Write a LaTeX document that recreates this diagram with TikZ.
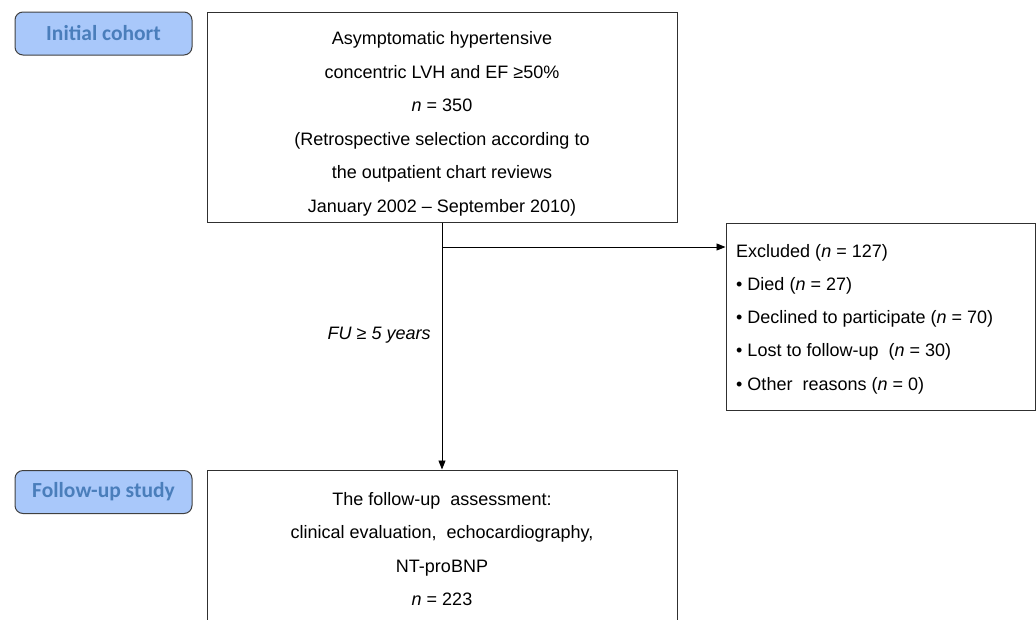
\documentclass[tikz,border=0pt]{standalone}
\usepackage{fontspec}
\setmainfont{Liberation Sans}
\newfontfamily\labelfont{Carlito}
\usetikzlibrary{arrows.meta}
\definecolor{lblfill}{HTML}{A9C8FA}
\definecolor{lbltext}{HTML}{4A7EBB}
\definecolor{lbldraw}{HTML}{404040}
\definecolor{boxdraw}{HTML}{303030}
\tikzset{
  stagelabel/.style={draw=lbldraw, line width=1pt, rounded corners=8pt, fill=lblfill,
    minimum width=177pt, minimum height=43pt, inner sep=0pt,
    font=\labelfont\bfseries\fontsize{21.5}{24}\selectfont, text=lbltext},
  flowbox/.style={draw=boxdraw, line width=1pt, rectangle, inner sep=0pt},
  boxtext/.style={inner sep=0pt, align=center, font=\fontsize{18}{33.5}\selectfont},
  listtext/.style={inner sep=0pt, align=left, font=\fontsize{18}{33.3}\selectfont},
  flowarrow/.style={line width=0.9pt, -{Triangle[length=9pt,width=7pt]}},
}
\begin{document}
\begin{tikzpicture}[x=1pt,y=-1pt]
\useasboundingbox (0,0) rectangle (1036,619);
\clip (0,0) rectangle (1036,619);

% stage labels
\node[stagelabel] (lab1) at (103.5,33.5) {Initial cohort};
\node[stagelabel] (lab2) at (103.5,492) {Follow-up study};

% boxes
\node[flowbox, minimum width=470pt, minimum height=210pt] (box1) at (442,117) {};
\node[boxtext] (t1) at (442,124) {Asymptomatic hypertensive\\
concentric LVH and EF ≥50\%\\
\textit{n} = 350\\
(Retrospective selection according to\\
the outpatient chart reviews\\
January 2002 – September 2010)};

\node[flowbox, minimum width=470pt, minimum height=180pt] (box2) at (442,560) {};
\node[boxtext] (t2) at (442,549) {The follow-up\ \ assessment:\\
clinical evaluation,\ \ echocardiography,\\
NT-proBNP\\
\textit{n} = 223};

\node[flowbox, minimum width=309pt, minimum height=187pt] (box3) at (880.5,316.5) {};
\node[listtext, anchor=west] (t3) at (736,319) {Excluded (\textit{n} = 127)\\
• Died (\textit{n} = 27)\\
• Declined to participate (\textit{n} = 70)\\
• Lost to follow-up\ \ (\textit{n} = 30)\\
• Other\ \ reasons (\textit{n} = 0)};

% connectors
\coordinate (branch) at (box1.south |- 0,247);
\draw[flowarrow] (box1.south) -- node[pos=0.456, left, inner xsep=11pt, font=\itshape\fontsize{18}{20}\selectfont] (fu) {FU ≥ 5 years} (box2.north);
\draw[flowarrow] (branch) -- (branch -| box3.west);
\end{tikzpicture}
\end{document}
